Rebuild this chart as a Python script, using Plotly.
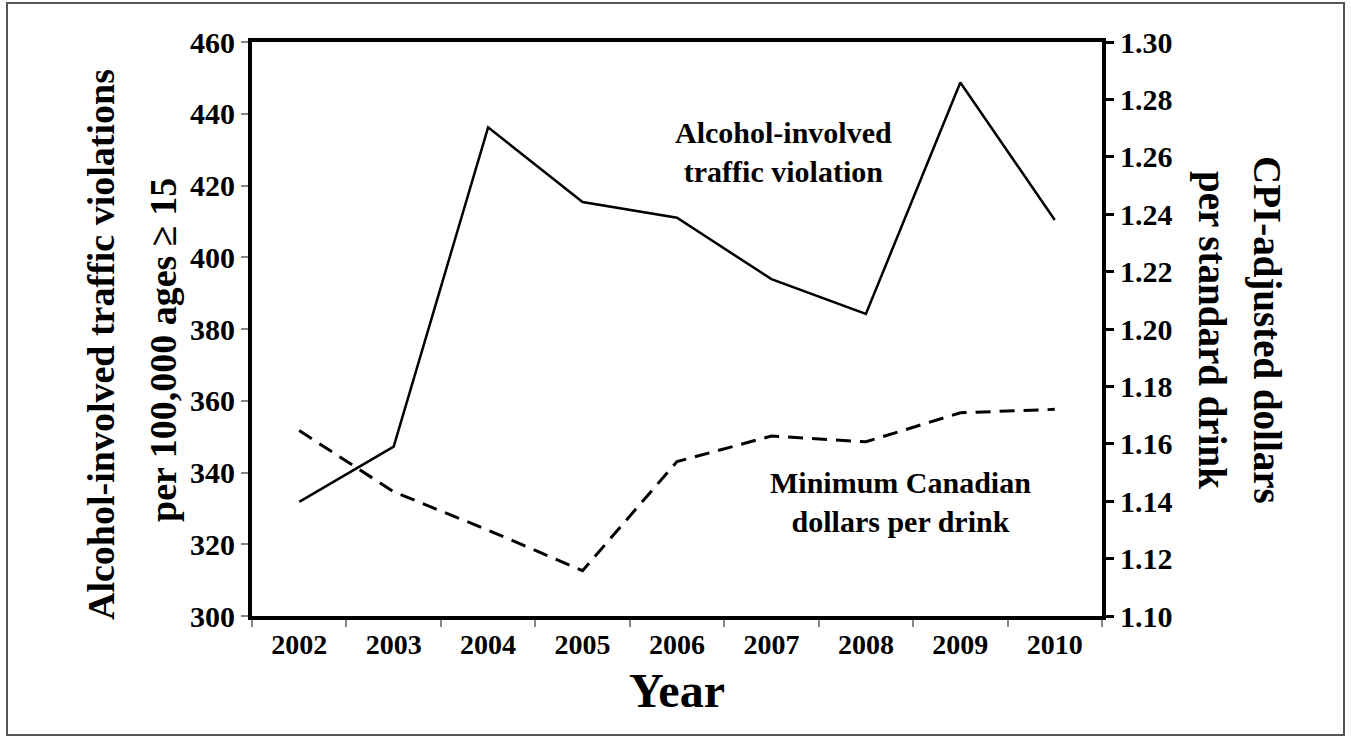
import plotly.graph_objects as go

years = ["2002", "2003", "2004", "2005", "2006", "2007", "2008", "2009", "2010"]
violations = [331.8, 347.2, 436.2, 415.4, 411.0, 393.9, 384.2, 448.7, 410.4]
min_price = [1.1646, 1.1433, 1.1299, 1.1158, 1.1538, 1.1627, 1.1607, 1.1708, 1.1720]

left_ticks = [300, 320, 340, 360, 380, 400, 420, 440, 460]
right_ticks = [1.10, 1.12, 1.14, 1.16, 1.18, 1.20, 1.22, 1.24, 1.26, 1.28, 1.30]

W, H = 1351, 739
L, R, T, B = 252, 1102, 42, 616

def px(x):
    return (x - L) / (R - L)

def py(y):
    return (B - y) / (B - T)

FONT = "Liberation Serif, Times New Roman, serif"

fig = go.Figure()
fig.add_trace(go.Scatter(x=years, y=violations, mode="lines",
                         line=dict(color="black", width=2.5), yaxis="y",
                         showlegend=False))
fig.add_trace(go.Scatter(x=years, y=min_price, mode="lines",
                         line=dict(color="black", width=3, dash="15px,9px"),
                         yaxis="y2", showlegend=False))

fig.update_layout(
    width=W, height=H,
    margin=dict(l=L, r=W - R, t=T, b=H - B),
    paper_bgcolor="white", plot_bgcolor="white",
    font=dict(family=FONT, color="black", size=28, weight="bold"),
    xaxis=dict(type="category", tickson="boundaries", ticks="outside",
               range=[-0.5, len(years) - 0.5],
               ticklen=7, tickwidth=2, tickcolor="#888",
               showline=True, mirror=True, linewidth=4, linecolor="black",
               showgrid=False, zeroline=False,
               tickfont=dict(family=FONT, size=28, weight="bold")),
    yaxis=dict(range=[300, 460], tickvals=left_ticks, ticks="outside",
               ticklen=7, tickwidth=2, tickcolor="#888",
               showline=True, linewidth=4, linecolor="black",
               showgrid=False, zeroline=False,
               tickfont=dict(family=FONT, size=30, weight="bold")),
    yaxis2=dict(range=[1.10, 1.30], tickvals=right_ticks, tickformat=".2f",
                overlaying="y", side="right", ticks="outside",
                ticklen=8, tickwidth=3, tickcolor="black",
                showline=True, linewidth=4, linecolor="black",
                showgrid=False, zeroline=False,
                tickfont=dict(family=FONT, size=30, weight="bold")),
)

ann = []
def add(text, x, y, size, angle=0):
    ann.append(dict(text=text, x=px(x), y=py(y), xref="paper", yref="paper",
                    showarrow=False, textangle=angle,
                    xanchor="center", yanchor="middle",
                    font=dict(family=FONT, size=size, color="black", weight="bold")))

add("Alcohol-involved traffic violations", 101, 345, 38, -90)
add("per 100,000 ages \u2265 15", 163, 350, 38, -90)
add("CPI-adjusted dollars", 1267, 330, 39, 90)
add("per standard drink", 1212, 330, 39, 90)
add("Year", 677, 690, 48)
add("Alcohol-involved<br>traffic violation", 783, 152, 30)
add("Minimum Canadian<br>dollars per drink", 900, 502, 30)
fig.update_layout(annotations=ann)

fig.add_shape(type="rect", xref="paper", yref="paper",
              x0=px(7), x1=px(1344), y0=py(735), y1=py(3),
              line=dict(color="#555", width=2), layer="below")

fig.write_html("out.html", config={"displayModeBar": False},
               post_script="document.body.style.margin='0';"
                           "document.body.style.overflow='hidden';")
